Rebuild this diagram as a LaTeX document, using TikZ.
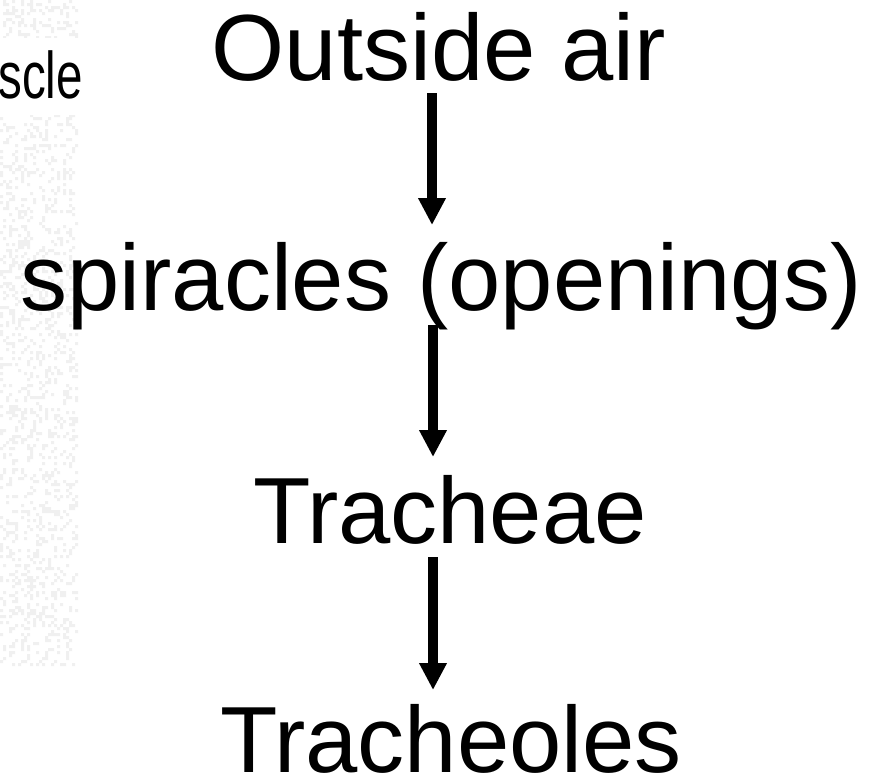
\documentclass[tikz,border=0pt]{standalone}
\usepackage{fontspec}
\setmainfont{Liberation Sans}
\usetikzlibrary{arrows.meta}
\begin{document}
\begin{tikzpicture}[x=1pt,y=-1pt,
  lbl/.style={font=\fontsize{94}{94}\selectfont, inner sep=0pt, anchor=base},
  arr/.style={line width=9.5pt, -{Triangle[width=26pt,length=27pt]}},
  speck/.style={fill=black!6}]
\useasboundingbox (0,0) rectangle (877,780);
\fill[white] (0,0) rectangle (877,780);
\pgfmathsetseed{7}
\fill[speck] \foreach \i in {1,...,1600} { ({3*int(26*rnd)},{3*int(222*rnd)}) rectangle ++(3,3) };
\fill[white] (0,38) rectangle (80,115);
\node[font=\fontsize{66}{66}\selectfont, xscale=0.72, anchor=base east, inner sep=0pt] (scle) at (83,98) {scle};
\node[lbl] (out) at (439,80) {Outside air};
\node[lbl] (spi) at (441,310) {spiracles (openings)};
\node[lbl] (tra) at (450,543) {Tracheae};
\node[lbl] (tol) at (451,772) {Tracheoles};
\coordinate (a1s) at (432,93);  \coordinate (a1e) at (432,225);
\coordinate (a2s) at (433,325); \coordinate (a2e) at (433,457);
\coordinate (a3s) at (433,557); \coordinate (a3e) at (433,690);
\draw[arr] (a1s) -- (a1e);
\draw[arr] (a2s) -- (a2e);
\draw[arr] (a3s) -- (a3e);
\end{tikzpicture}
\end{document}
